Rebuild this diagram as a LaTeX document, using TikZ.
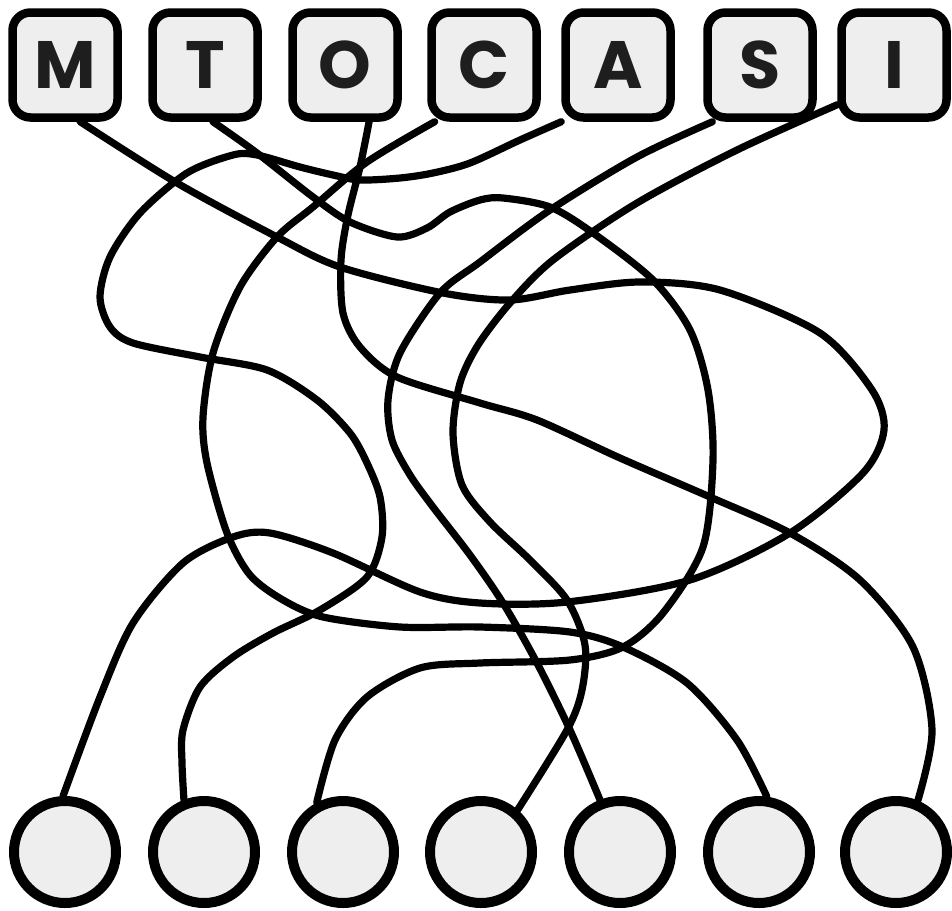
\documentclass[tikz,border=0pt]{standalone}
\usepackage{fontspec}
\newfontfamily\letterfont{Poppins}
\usetikzlibrary{backgrounds}
\definecolor{boxfill}{HTML}{EEEEEE}
\definecolor{ink}{HTML}{1E1E1E}
\begin{document}
\begin{tikzpicture}[x=1pt,y=-1pt,
  letterbox/.style={draw=black, line width=8.5pt, fill=boxfill, rounded corners=18pt, minimum size=105pt, inner sep=0pt, font=\letterfont\bfseries\fontsize{67}{67}\selectfont, text=ink},
  endcircle/.style={draw=black, line width=10pt, fill=boxfill, circle, minimum size=102pt, inner sep=0pt},
  wire/.style={line width=7.2pt, line cap=round, line join=round}]
\useasboundingbox (0,0) rectangle (952,910);
\node[letterbox] (M) at (65,65) {M};
\node[letterbox] (T) at (205,65) {T};
\node[letterbox] (O) at (345,65) {O};
\node[letterbox] (C) at (484,65) {C};
\node[letterbox] (A) at (618,65) {A};
\node[letterbox] (S) at (760,65) {S};
\node[letterbox] (I) at (894,65) {I};
\node[endcircle] (c1) at (65,852) {};
\node[endcircle] (c2) at (204,852) {};
\node[endcircle] (c3) at (343,852) {};
\node[endcircle] (c4) at (481,852) {};
\node[endcircle] (c5) at (620,852) {};
\node[endcircle] (c6) at (759,852) {};
\node[endcircle] (c7) at (896,852) {};
\begin{scope}[on background layer]
% M -> c1
\draw[wire] plot[smooth] coordinates {(M.-75) (177,183) (277,237) (340,267) (443,293) (510,300) (570,290) (640,282) (720,290) (820,333) (872,390) (884,430) (863,473) (790,533) (690,580) (567,602) (480,603) (420,592) (333,553) (270,533) (233,537) (183,563) (133,623) (100,697) (c1.92)};
% T -> c3
\draw[wire] plot[smooth] coordinates {(T.-82) (257,153) (313,197) (350,222) (397,237) (427,228) (450,212) (480,200) (503,198) (550,207) (593,233) (653,280) (690,330) (708,390) (713,460) (703,547) (663,613) (623,647) (570,660) (480,663) (420,668) (367,697) (335,740) (c3.118)};
% O -> c7
\draw[wire] plot[smooth] coordinates {(O.-67) (360,167) (348,215) (341,260) (343,313) (360,347) (397,377) (480,403) (537,420) (620,458) (710,497) (790,533) (860,580) (913,647) (932,730) (c7.67)};
% C -> c6
\draw[wire] plot[smooth] coordinates {(C.-131) (367,162) (313,207) (277,237) (240,287) (213,353) (203,417) (207,463) (227,533) (250,575) (283,600) (323,617) (400,627) (480,627) (570,632) (623,647) (687,683) (737,740) (c6.82)};
% A -> c2
\draw[wire] plot[smooth] coordinates {(A.-135) (520,140) (470,163) (433,173) (400,178) (360,180) (333,175) (300,167) (257,155) (233,155) (187,173) (140,213) (110,257) (100,297) (110,327) (133,343) (200,357) (267,370) (317,400) (350,433) (367,463) (380,497) (382,537) (367,577) (320,610) (273,633) (233,657) (200,687) (183,730) (182,763) (c2.111)};
% S -> c5
\draw[wire] plot[smooth] coordinates {(S.-130) (637,157) (550,210) (480,262) (440,293) (400,353) (388,400) (392,440) (410,475) (433,507) (470,555) (503,603) (537,663) (570,730) (c5.111)};
% I -> c4
\draw[wire] plot[smooth] coordinates {(I.-145) (737,150) (637,203) (553,260) (510,303) (478,345) (460,383) (453,433) (462,485) (490,522) (530,560) (567,600) (585,645) (582,690) (567,730) (c4.49)};
\end{scope}
\end{tikzpicture}
\end{document}
